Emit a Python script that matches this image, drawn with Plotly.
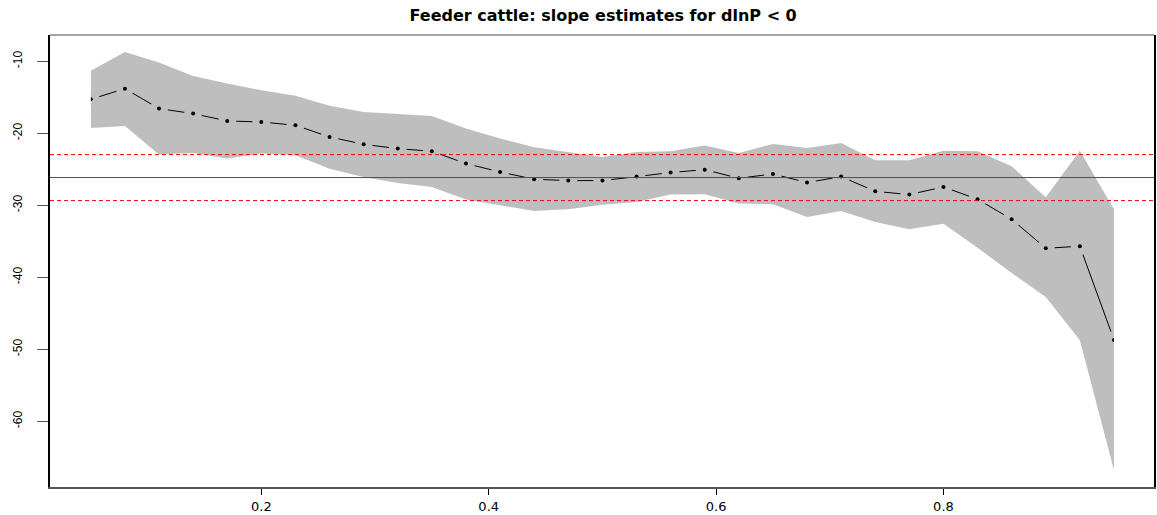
import plotly.graph_objects as go

# Quantile levels and slope estimates with their confidence band
tau = [0.05, 0.08, 0.11, 0.14, 0.17, 0.20, 0.23, 0.26, 0.29, 0.32, 0.35,
       0.38, 0.41, 0.44, 0.47, 0.50, 0.53, 0.56, 0.59, 0.62, 0.65, 0.68,
       0.71, 0.74, 0.77, 0.80, 0.83, 0.86, 0.89, 0.92, 0.95]

slope = [-15.28, -13.80, -16.57, -17.27, -18.29, -18.43, -18.89, -20.51,
         -21.53, -22.13, -22.50, -24.21, -25.37, -26.39, -26.57, -26.57,
         -26.02, -25.46, -25.05, -26.25, -25.65, -26.85, -26.02, -28.06,
         -28.52, -27.45, -29.17, -31.94, -35.97, -35.69, -48.70]

upper = [-11.30, -8.71, -10.18, -12.04, -13.10, -14.03, -14.80, -16.16,
         -17.04, -17.27, -17.60, -19.35, -20.74, -21.94, -22.60, -23.29,
         -22.60, -22.50, -21.70, -22.73, -21.48, -22.04, -21.34, -23.75,
         -23.75, -22.41, -22.50, -24.58, -28.89, -22.41, -30.56]

lower = [-19.26, -18.98, -22.96, -22.73, -23.52, -22.82, -23.06, -24.91,
         -26.07, -26.90, -27.45, -29.21, -30.00, -30.79, -30.56, -29.91,
         -29.54, -28.52, -28.47, -29.77, -29.86, -31.62, -30.79, -32.31,
         -33.33, -32.55, -35.90, -39.40, -42.74, -48.75, -66.80]

# OLS estimate and its confidence limits
ols_est = -26.15
ols_lo = -29.35
ols_hi = -22.96

x_ticks = [0.2, 0.4, 0.6, 0.8]
y_ticks = [-60, -50, -40, -30, -20, -10]

X_RANGE = [0.0141, 0.9852]
Y_RANGE = [-69.13, -6.35]
BAND = "#BEBEBE"

fig = go.Figure()

# confidence band
fig.add_trace(go.Scatter(
    x=tau + tau[::-1], y=upper + lower[::-1],
    fill="toself", fillcolor=BAND, line=dict(width=0),
    mode="lines", hoverinfo="skip", showlegend=False))

# estimate line
fig.add_trace(go.Scatter(
    x=tau, y=slope, mode="lines",
    line=dict(color="black", width=1), showlegend=False))

# band-coloured discs open a gap in the line around each point
fig.add_trace(go.Scatter(
    x=tau, y=slope, mode="markers",
    marker=dict(color=BAND, size=18, line=dict(width=0)),
    showlegend=False, hoverinfo="skip"))

# point markers
fig.add_trace(go.Scatter(
    x=tau, y=slope, mode="markers",
    marker=dict(color="black", size=4, line=dict(width=0)),
    showlegend=False))

shapes = [
    # keep the discs at the two end points inside the band
    dict(type="rect", xref="x", yref="paper", x0=0.017, x1=tau[0],
         y0=0.005, y1=0.995, fillcolor="white", line=dict(width=0),
         layer="above"),
    dict(type="rect", xref="x", yref="paper", x0=tau[-1], x1=0.982,
         y0=0.005, y1=0.995, fillcolor="white", line=dict(width=0),
         layer="above"),
    # OLS reference lines
    dict(type="line", xref="paper", yref="y", x0=0, x1=1,
         y0=ols_est, y1=ols_est, line=dict(color="red", width=1),
         layer="above"),
    dict(type="line", xref="paper", yref="y", x0=0, x1=1,
         y0=ols_lo, y1=ols_lo, line=dict(color="red", width=1, dash="4px,3px"),
         layer="above"),
    dict(type="line", xref="paper", yref="y", x0=0, x1=1,
         y0=ols_hi, y1=ols_hi, line=dict(color="red", width=1, dash="4px,3px"),
         layer="above"),
    # top edge of the box
    dict(type="line", xref="paper", yref="paper", x0=0, x1=1, y0=1, y1=1,
         line=dict(color="#A5A5A5", width=2), layer="above"),
]

fig.update_layout(
    width=1157, height=515,
    margin=dict(l=50, r=1, t=35, b=28),
    paper_bgcolor="white", plot_bgcolor="white",
    showlegend=False,
    shapes=shapes,
    title=dict(
        text="<b>Feeder cattle: slope estimates for dlnP < 0</b>",
        x=0.5213, xanchor="center", y=1 - 15 / 515, yanchor="middle",
        yref="container",
        font=dict(family="DejaVu Sans", size=16, color="black")),
    xaxis=dict(
        range=X_RANGE, tickvals=x_ticks, ticktext=[str(v) for v in x_ticks],
        showgrid=False, zeroline=False,
        showline=True, linecolor="#555555", linewidth=2, mirror=False,
        ticks="outside", ticklen=6, tickcolor="black", tickwidth=1,
        tickfont=dict(family="DejaVu Sans", size=13, color="black")),
    yaxis=dict(
        range=Y_RANGE, tickvals=y_ticks, ticktext=[str(v) for v in y_ticks],
        showgrid=False, zeroline=False,
        showline=True, linecolor="black", linewidth=2, mirror=True,
        ticks="outside", ticklen=11, tickcolor="#555555", tickwidth=1,
        tickangle=-90, ticklabelstandoff=10,
        tickfont=dict(family="Liberation Sans", size=12, color="black")),
)

fig.write_html("out.html")
